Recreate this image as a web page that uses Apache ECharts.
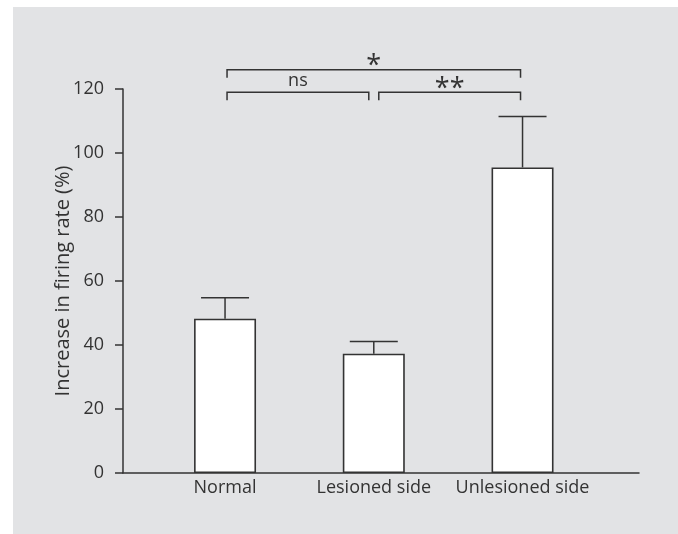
<!DOCTYPE html>
<html>
<head>
<meta charset="utf-8">
<script src="https://cdn.jsdelivr.net/npm/echarts@6/dist/echarts.min.js"></script>
<style>
  html, body { margin: 0; padding: 0; background: #ffffff; }
  #bg { position: absolute; left: 13px; top: 7px; width: 665px; height: 527px; background: #e2e3e5; }
  #chart { position: absolute; left: 0; top: 0; width: 678px; height: 534px; }
</style>
</head>
<body>
<div id="bg"></div>
<div id="chart"></div>
<script>
// ---- data ----
const categories = ['Normal', 'Lesioned side', 'Unlesioned side'];
const means = [48.2, 37.3, 95.5];
const errorTops = [54.8, 41.1, 111.4];
const yTicks = [0, 20, 40, 60, 80, 100, 120];
// significance brackets
const bracketFrom = [0, 0, 1];
const bracketTo = [2, 1, 2];
const bracketLevel = [126, 119, 119];
const bracketLabel = ['*', 'ns', '**'];

const ink = '#333333';
const font = '"Open Sans", "Noto Sans", sans-serif';

const chart = echarts.init(document.getElementById('chart'), null, { renderer: 'canvas' });

const barData = categories.map((c, i) => [i, means[i]]);
const errData = categories.map((c, i) => [i, means[i], errorTops[i]]);
const brData = bracketLabel.map((l, i) => [bracketFrom[i], bracketTo[i], bracketLevel[i], i]);

function touches(idx, endVal) {
  for (let j = 0; j < bracketLabel.length; j++) {
    if (j === idx || bracketLevel[j] !== bracketLevel[idx]) continue;
    if (bracketFrom[j] === endVal || bracketTo[j] === endVal) return true;
  }
  return false;
}

const option = {
  backgroundColor: 'transparent',
  animation: false,
  grid: { left: 123, right: 39, top: 89, bottom: 61, containLabel: false },
  xAxis: {
    type: 'value',
    min: -0.686,
    max: 2.783,
    splitLine: { show: false },
    axisLine: { show: true, onZero: false, lineStyle: { color: ink, width: 1.5 } },
    axisTick: { show: false },
    axisLabel: {
      customValues: [0, 1, 2],
      formatter: v => categories[Math.round(v)] || '',
      color: ink,
      fontFamily: font,
      fontSize: 18,
      margin: 6,
      showMinLabel: true,
      showMaxLabel: true
    }
  },
  yAxis: {
    type: 'value',
    min: 0,
    max: 120,
    interval: 20,
    name: 'Increase in firing rate (%)',
    nameLocation: 'middle',
    nameGap: 50,
    nameMoveOverlap: false,
    nameTextStyle: { color: ink, fontFamily: font, fontSize: 20 },
    splitLine: { show: false },
    axisLine: { show: true, onZero: false, lineStyle: { color: ink, width: 1.5 } },
    axisTick: { show: true, length: 8, lineStyle: { color: ink, width: 1.5 } },
    axisLabel: {
      color: ink,
      fontFamily: font,
      fontSize: 18,
      margin: 19,
      formatter: v => (yTicks.indexOf(v) >= 0 ? String(v) : '')
    }
  },
  series: [
    {
      type: 'bar',
      data: barData,
      barWidth: 62,
      itemStyle: { color: '#ffffff', borderColor: ink, borderWidth: 1.6 },
      z: 3
    },
    {
      type: 'custom',
      data: errData,
      z: 2,
      renderItem: function (params, api) {
        const x = api.value(0);
        const top = api.coord([x, api.value(1)]);
        const err = api.coord([x, api.value(2)]);
        const half = 24;
        return {
          type: 'group',
          children: [
            { type: 'line', shape: { x1: top[0], y1: top[1], x2: err[0], y2: err[1] }, style: { stroke: ink, lineWidth: 1.5 } },
            { type: 'line', shape: { x1: err[0] - half, y1: err[1], x2: err[0] + half, y2: err[1] }, style: { stroke: ink, lineWidth: 1.5 } }
          ]
        };
      }
    },
    {
      type: 'custom',
      data: brData,
      z: 4,
      clip: false,
      renderItem: function (params, api) {
        const a = api.value(0), b = api.value(1), lvl = api.value(2), idx = api.value(3);
        const pa = api.coord([a, lvl]);
        const pb = api.coord([b, lvl]);
        const insetA = touches(idx, a) ? 5 : 2;
        const insetB = touches(idx, b) ? 5 : 2;
        const x1 = pa[0] + insetA;
        const x2 = pb[0] - insetB;
        const y = pa[1];
        const drop = 8;
        const label = bracketLabel[idx];
        const isStar = label.indexOf('*') >= 0;
        return {
          type: 'group',
          children: [
            { type: 'polyline', shape: { points: [[x1, y + drop], [x1, y], [x2, y], [x2, y + drop]] }, style: { stroke: ink, lineWidth: 1.5, fill: null } },
            {
              type: 'text',
              style: {
                text: label,
                x: (x1 + x2) / 2,
                y: isStar ? y - 3 : y - 11,
                align: 'center',
                verticalAlign: 'middle',
                fill: ink,
                font: (isStar ? '27px ' : '18px ') + font
              }
            }
          ]
        };
      }
    }
  ]
};

chart.setOption(option);
</script>
</body>
</html>
